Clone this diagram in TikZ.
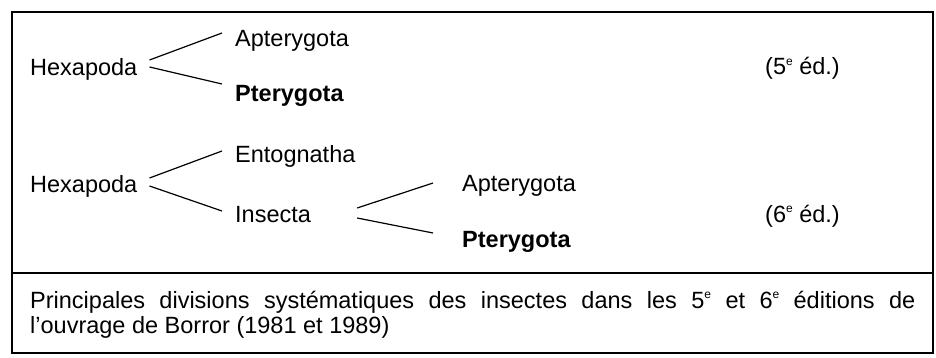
\documentclass[tikz,border=0pt]{standalone}
\usepackage{fontspec}
\setmainfont{Liberation Sans}
\newcommand{\supe}{\raisebox{0.78ex}{\fontsize{12}{12}\selectfont e}}
\begin{document}
\begin{tikzpicture}[x=1pt,y=-1pt,
  lbl/.style={inner sep=0pt,anchor=base west,font=\fontsize{23.5}{25}\selectfont},
  conn/.style={line width=1.2pt},
  frame/.style={line width=1.6pt}]
\useasboundingbox (0,0) rectangle (936,358);
\draw[frame] (12,12) rectangle (933,353);
\draw[frame] (12,273) -- (933,273);
% 5e edition
\node[lbl] (hexa) at (30,76) {Hexapoda};
\node[lbl] (apt) at (235,47) {Apterygota};
\node[lbl,font=\fontsize{23.5}{25}\selectfont\bfseries] (pte) at (235,102) {Pterygota};
\node[lbl] (ed5) at (765,75) {(5\supe\ éd.)};
\draw[conn] ([shift={(12,-16)}]hexa.base east) -- ([shift={(-13,-14)}]apt.base west);
\draw[conn] ([shift={(12,-9)}]hexa.base east) -- ([shift={(-13,-18)}]pte.base west);
% 6e edition
\node[lbl] (hexb) at (30,193) {Hexapoda};
\node[lbl] (ent) at (235,163) {Entognatha};
\node[lbl] (ins) at (235,222) {Insecta};
\node[lbl] (aptb) at (462,192) {Apterygota};
\node[lbl,font=\fontsize{23.5}{25}\selectfont\bfseries] (pteb) at (462,247) {Pterygota};
\node[lbl] (ed6) at (765,222) {(6\supe\ éd.)};
\draw[conn] ([shift={(12,-15)}]hexb.base east) -- ([shift={(-13,-12)}]ent.base west);
\draw[conn] ([shift={(12,-7)}]hexb.base east) -- ([shift={(-13,-11)}]ins.base west);
\draw[conn] ([shift={(46,-14)}]ins.base east) -- ([shift={(-29,-9)}]aptb.base west);
\draw[conn] ([shift={(46,-4)}]ins.base east) -- ([shift={(-29,-14)}]pteb.base west);
% caption
\node[lbl,text width=885pt,align=justify,anchor=base west] (cap) at (30,308)
  {Principales divisions systématiques des insectes dans les 5\supe\ et 6\supe\ éditions de\linebreak l'ouvrage de Borror (1981 et 1989)};
\end{tikzpicture}
\end{document}
